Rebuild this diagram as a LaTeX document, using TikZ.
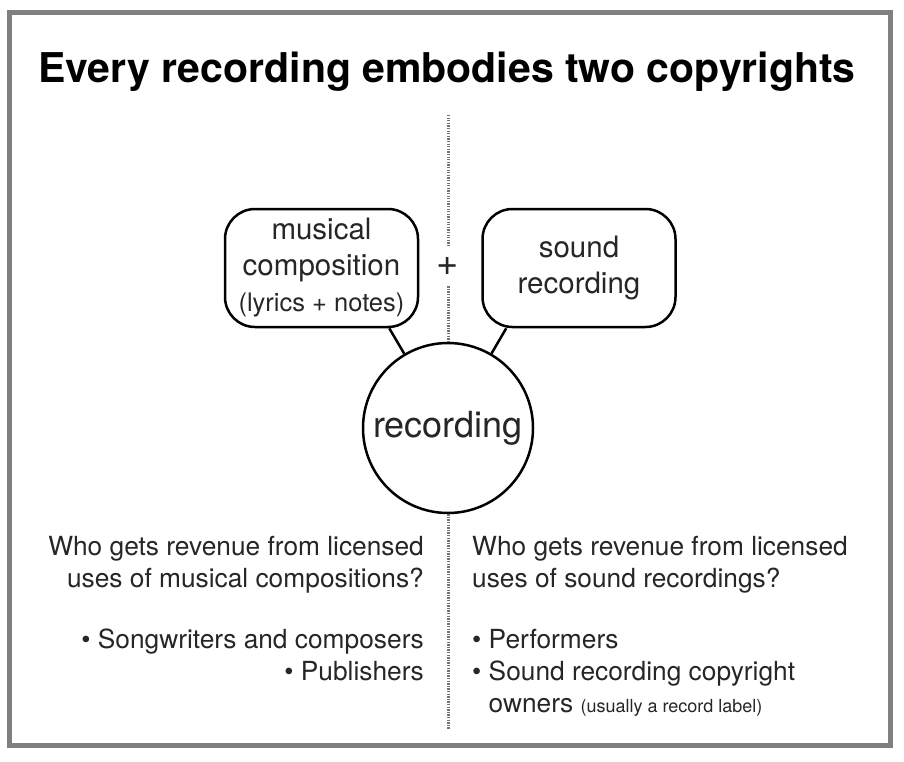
\documentclass[tikz,border=0pt]{standalone}
\usepackage{fontspec}
\setmainfont{TeX Gyre Heros}
\begin{document}
\begin{tikzpicture}[x=1pt,y=-1pt,
    idea/.style={draw,line width=2.5pt,rounded corners=30pt,minimum width=193pt,minimum height=118pt,
      align=center,inner sep=0pt,text=black!85,font=\fontsize{29.5}{36}\selectfont},
    divider/.style={black!55,line width=3pt,dash pattern=on 1.3pt off 1.3pt},
    textblock/.style={inner sep=0pt,text=black!85,font=\fontsize{26.3}{32}\selectfont}]
    \useasboundingbox (0,0) rectangle (904,762);
    %frame
    \draw[fill=white,draw=black!50,line width=5pt] (9,13) rectangle (890,745);
    \node[anchor=base,font=\bfseries\fontsize{41}{44}\selectfont] (title) at (447,83) {Every recording embodies two copyrights};

    %the two copyrights
    \node[idea] (comp) at (321.5,268) {musical\\composition\\{\fontsize{25.5}{30}\selectfont(lyrics + notes)}};
    \node[idea] (snd) at (579,268) {sound\\recording};
    \node[inner sep=0pt,minimum size=40pt,text=black!85,font=\fontsize{38}{38}\selectfont] (plus) at (448,266) {+};
    \node[draw,circle,line width=2.5pt,minimum size=170pt,inner sep=0pt,text=black!85,
      font=\fontsize{36}{40}\selectfont] (rec) at (448,428) {recording};
    \draw[line width=2.5pt] (rec) -- ([xshift=-30pt]comp.south east);
    \draw[line width=2.5pt] (rec) -- ([xshift=25pt]snd.south west);

    %dividing line
    \draw[divider] (448,115) -- (plus);
    \draw[divider] (plus) -- (rec);
    \draw[divider] (rec) -- (448,730);

    %who gets revenue
    \node[textblock,align=right,anchor=base east] (compq) at (424,587) {Who gets revenue from licensed\\uses of musical compositions?};
    \node[textblock,align=right,anchor=base east] (compl) at (424,680) {\textbullet\ Songwriters and composers\\\textbullet\ Publishers};
    \node[textblock,align=left,anchor=base west] (sndq) at (472,587) {Who gets revenue from licensed\\uses of sound recordings?};
    \node[textblock,align=left,anchor=base west] (sndl) at (472,712) {\textbullet\ Performers\\\textbullet\ Sound recording copyright\\
      \hphantom{\textbullet\ }owners {\fontsize{18}{18}\selectfont(usually a record label)}};
\end{tikzpicture}
\end{document}
